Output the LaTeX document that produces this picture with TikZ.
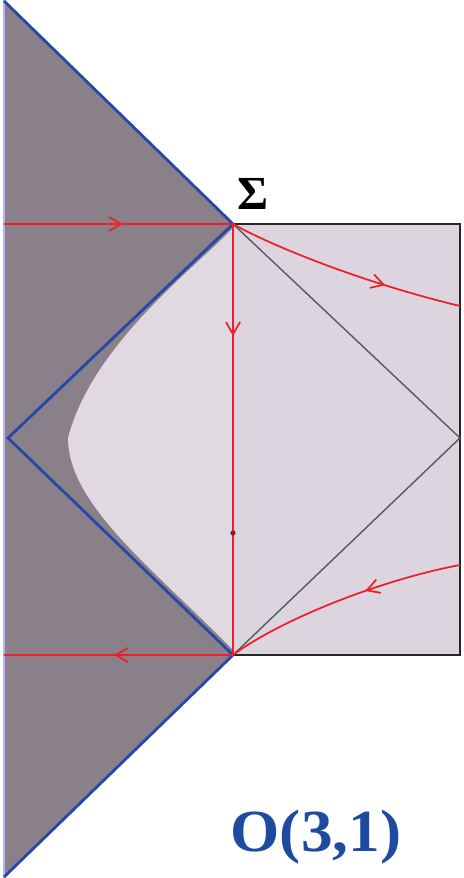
\documentclass[tikz,border=0pt]{standalone}
\usepackage{fontspec}
\usetikzlibrary{arrows.meta,decorations.markings}
\newfontfamily\labelfont{Liberation Serif}

\definecolor{darkregion}{RGB}{138,128,137}
\definecolor{lightregion}{RGB}{220,212,222}
\definecolor{coneblue}{RGB}{40,72,165}
\definecolor{rayred}{RGB}{236,32,42}
\definecolor{textblue}{RGB}{30,75,160}

\begin{document}
\begin{tikzpicture}[
    x=0.02cm, y=-0.02cm,
    cone/.style={draw=coneblue, line width=1.6pt, line join=miter},
    frame/.style={draw=black!85, line width=0.8pt},
    diag/.style={draw=black!65, line width=0.8pt},
    ray/.style={draw=rayred, line width=1pt},
    midarrow/.style={postaction={decorate},
        decoration={markings, mark=at position #1 with {\arrow[rayred]{Straight Barb[length=7pt,width=8pt]}}}},
    dot/.style={circle, fill=rayred!70!black, inner sep=0pt, minimum size=3pt}
]
\useasboundingbox (0,0) rectangle (463,878);

% corner points
\coordinate (sigma) at (233,224);
\coordinate (south) at (233,655);
\coordinate (west) at (8,438);
\coordinate (east) at (460,438);
\coordinate (ne) at (460,224);
\coordinate (se) at (460,655);
\coordinate (topleft) at (4,1);
\coordinate (botleft) at (4,877);
\coordinate (tip) at (68,438);

% shaded regions
\fill[darkregion] (topleft) -- (sigma) -- (south) -- (botleft) -- cycle;
\fill[lightregion] (sigma) rectangle (se);
\fill[lightregion!88!white] (233,228) .. controls (195,268) and (92,345) .. (tip)
    .. controls (68,505) and (155,570) .. (233,650) -- cycle;
\draw[blue!30, line width=1pt] (4,0) -- (4,878);

% box and light lines
\draw[frame] (sigma) -- (ne) -- (se) -- (south);
\draw[diag] (sigma) -- (east) -- (south);
\draw[cone] (topleft) -- (sigma) -- (west) -- (south) -- (botleft);

% rays
\coordinate (inray) at (4,224);
\coordinate (outray) at (4,655);
\coordinate (upend) at (460,306);
\coordinate (lowstart) at (460,565);
\draw[ray, midarrow=0.52] (inray) -- (sigma);
\draw[ray, midarrow=0.26] (sigma) -- (south);
\draw[ray, midarrow=0.52] (south) -- (outray);
\draw[ray, midarrow=0.68] (sigma) .. controls (270,245) and (360,282) .. (upend);
\draw[ray, midarrow=0.4] (lowstart) .. controls (380,580) and (280,620) .. (south);
\node[dot] (fixpt) at (233,533) {};

% labels
\node[font=\labelfont\bfseries\fontsize{27}{27}\selectfont] (siglabel) at (253,194) {Σ};
\node[text=textblue, xscale=1.06, font=\labelfont\bfseries\fontsize{34}{34}\selectfont] (group) at (316,837) {O(3,1)};

\end{tikzpicture}
\end{document}
